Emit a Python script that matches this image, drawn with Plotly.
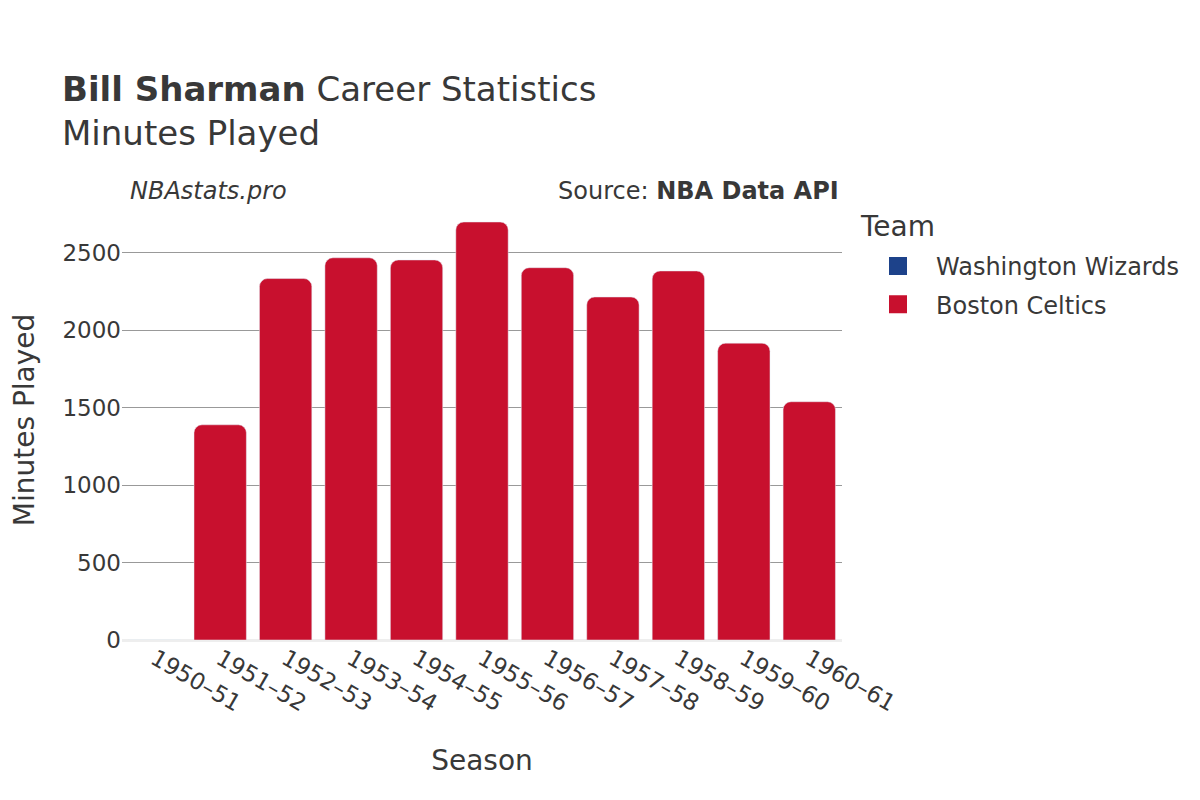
import plotly.graph_objects as go

seasons = ["1950–51", "1951–52", "1952–53", "1953–54", "1954–55", "1955–56",
           "1956–57", "1957–58", "1958–59", "1959–60", "1960–61"]
teams = ["Washington Wizards", "Boston Celtics"]
team_colors = ["#1D428A", "#C8102E"]
wizards_minutes = [0, None, None, None, None, None, None, None, None, None, None]
celtics_minutes = [None, 1389, 2333, 2467, 2453, 2698, 2403, 2214, 2382, 1916, 1538]

font_family = "DejaVu Sans"
text_color = "#383838"

fig = go.Figure()
for name, color, vals in zip(teams, team_colors, [wizards_minutes, celtics_minutes]):
    fig.add_trace(go.Bar(x=seasons, y=vals, name=name, legendgroup=name,
                         marker=dict(color=color), showlegend=False))
for name, color in zip(teams, team_colors):
    fig.add_trace(go.Scatter(x=[None], y=[None], mode="markers", name=name,
                             legendgroup=name,
                             marker=dict(symbol="square", size=20, color=color,
                                         line=dict(width=2, color=color))))

fig.update_layout(
    width=1200, height=800,
    barmode="relative",
    bargap=0.2,
    barcornerradius=8,
    plot_bgcolor="white",
    paper_bgcolor="white",
    font=dict(family=font_family, color=text_color, size=23),
    margin=dict(l=114, r=366, t=192, b=168),
    title=dict(
        text="<b>Bill Sharman</b> Career Statistics<br>Minutes Played",
        x=0.045, xanchor="left", y=0.884, yanchor="top",
        font=dict(size=34, family=font_family, color=text_color),
    ),
    legend=dict(
        font=dict(size=24),
        x=1.025, xanchor="left", y=0.900, yanchor="top",
        itemwidth=66,
        itemsizing="trace",
        tracegroupgap=4,
    ),
    xaxis=dict(
        title=dict(text="Season", font=dict(size=28), standoff=34),
        tickangle=30,
        tickfont=dict(size=23),
        showgrid=False,
    ),
    yaxis=dict(
        title=dict(text="Minutes Played", font=dict(size=28), standoff=30),
        automargin=False,
        tickfont=dict(size=23),
        showgrid=True, gridcolor="#999999", gridwidth=1,
        zeroline=True, zerolinecolor="#eeeeee", zerolinewidth=3,
        dtick=500,
    ),
    annotations=[
        dict(text="<i>NBAstats.pro</i>", x=0.008, xref="paper", y=0.983, yref="paper",
             xanchor="left", yanchor="bottom", showarrow=False, font=dict(size=24)),
        dict(text="Source: <b>NBA Data API</b>", x=0.999, xref="paper", y=0.983, yref="paper",
             xanchor="right", yanchor="bottom", showarrow=False, font=dict(size=24)),
        dict(text="Team", x=1.022, xref="paper", y=0.939, yref="paper",
             xanchor="left", yanchor="middle", showarrow=False, font=dict(size=28)),
    ],
)

fig.write_html("out.html")
